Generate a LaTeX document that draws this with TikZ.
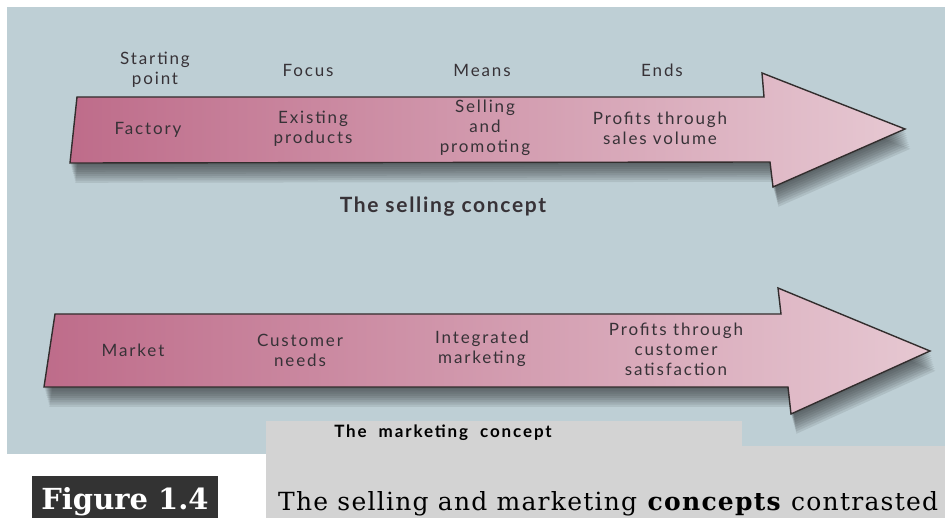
\documentclass[tikz,border=0pt]{standalone}
\usepackage{fontspec}
\setmainfont{Lato}
\newfontfamily\lblfont[LetterSpace=11]{Lato}
\newfontfamily\ttlfont[LetterSpace=8]{Lato}
\newfontfamily\capfont[LetterSpace=5]{DejaVu Serif}
\newfontfamily\figfont{DejaVu Serif}
\usepackage{xcolor}
\usepackage{tikz}
\usetikzlibrary{calc}
\definecolor{photobg}{RGB}{190,207,213}
\definecolor{pinkL}{RGB}{190,108,138}
\definecolor{pinkR}{RGB}{230,200,210}
\definecolor{labelgray}{RGB}{55,50,55}
\definecolor{edgegray}{RGB}{50,45,45}
\definecolor{capgray}{RGB}{211,211,211}
\definecolor{figdark}{RGB}{51,51,51}
\newcommand{\lblsize}{\fontsize{17}{20}\selectfont}

\begin{document}
\begin{tikzpicture}[x=1pt, y=-1pt,
  lbl/.style={font=\lblfont\lblsize, text=labelgray, align=center, inner sep=0pt},
  ttl/.style={font=\ttlfont\fontsize{21}{24}\selectfont\bfseries, text=labelgray, inner sep=0pt},
  sellshape/.style={insert path={(77,97) -- (764,97) -- (762,73) -- (905,129)
    -- (773,187) -- (770,162) -- (70,163) -- cycle}},
  markshape/.style={insert path={(55,314) -- (781,314) -- (778,288) -- (930,351)
    -- (791,414) -- (788,387) -- (44,387) -- cycle}},
  bigarrow/.style={draw=edgegray, line width=1.4pt, line join=miter,
    left color=pinkL, right color=pinkR},
  shadowstep/.style={black!80!photobg, opacity=0.1}]
\useasboundingbox (0,0) rectangle (945,518);
% photo
\fill[photobg] (7,7) rectangle (945,454);
% shadows
\foreach \d in {1,...,9} {
  \fill[shadowstep, shift={(\d*0.6, \d*2.2)}, sellshape];
  \fill[shadowstep, shift={(\d*0.6, \d*2.2)}, markshape];
}
% selling arrow
\path[bigarrow, sellshape];
\node[lbl] (sp) at (155,70) {Starting\\point};
\node[lbl] (fo) at (308,70) {Focus};
\node[lbl] (me) at (482,70) {Means};
\node[lbl] (en) at (662,70) {Ends};
\node[lbl] (fa) at (148,130) {Factory};
\node[lbl] (ex) at (313,129) {Existing\\products};
\node[lbl] (se) at (485,128) {Selling\\and\\promoting};
\node[lbl] (pr) at (660,128) {Profits through\\sales volume};
\node[ttl] (sc) at (443,207) {The selling concept};
% marketing arrow
\path[bigarrow, markshape];
\node[lbl] (ma) at (133,350) {Market};
\node[lbl] (cu) at (300,350) {Customer\\needs};
\node[lbl] (in) at (482,349) {Integrated\\marketing};
\node[lbl] (pc) at (676,349) {Profits through\\customer\\satisfaction};
% caption
\fill[capgray] (266,421) rectangle (742,446);
\fill[capgray] (266,446) rectangle (945,518);
\node[font=\lblfont\fontsize{17}{20}\selectfont\bfseries, inner sep=0pt] (mc) at (443,433)
  {The\hspace{12pt}marketing\hspace{12pt}concept};
\fill[figdark] (32,476) rectangle (218,518);
\node[font=\figfont\fontsize{29}{32}\selectfont\bfseries, text=white, inner sep=0pt, anchor=base]
  (fig) at (125,509) {Figure 1.4};
\node[font=\capfont\fontsize{25}{28}\selectfont, inner sep=0pt, anchor=base west]
  (cap) at (278,510) {The selling and marketing \textbf{concepts} contrasted};
\end{tikzpicture}
\end{document}
